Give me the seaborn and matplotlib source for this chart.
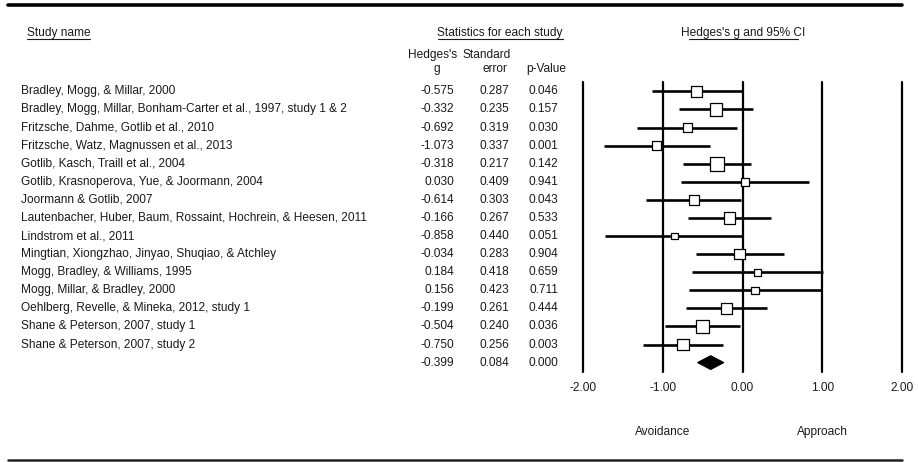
import matplotlib
matplotlib.use("Agg")
import matplotlib.pyplot as plt
import seaborn as sns
import pandas as pd
from matplotlib.transforms import blended_transform_factory
from matplotlib.lines import Line2D
from matplotlib.patches import Polygon

# ---------------- data ----------------
studies = [
    "Bradley, Mogg, & Millar, 2000",
    "Bradley, Mogg, Millar, Bonham-Carter et al., 1997, study 1 & 2",
    "Fritzsche, Dahme, Gotlib et al., 2010",
    "Fritzsche, Watz, Magnussen et al., 2013",
    "Gotlib, Kasch, Traill et al., 2004",
    "Gotlib, Krasnoperova, Yue, & Joormann, 2004",
    "Joormann & Gotlib, 2007",
    "Lautenbacher, Huber, Baum, Rossaint, Hochrein, & Heesen, 2011",
    "Lindstrom et al., 2011",
    "Mingtian, Xiongzhao, Jinyao, Shuqiao, & Atchley",
    "Mogg, Bradley, & Williams, 1995",
    "Mogg, Millar, & Bradley, 2000",
    "Oehlberg, Revelle, & Mineka, 2012, study 1",
    "Shane & Peterson, 2007, study 1",
    "Shane & Peterson, 2007, study 2",
]
hedges_g = [-0.575, -0.332, -0.692, -1.073, -0.318, 0.030, -0.614, -0.166,
            -0.858, -0.034, 0.184, 0.156, -0.199, -0.504, -0.750]
std_err = [0.287, 0.235, 0.319, 0.337, 0.217, 0.409, 0.303, 0.267,
           0.440, 0.283, 0.418, 0.423, 0.261, 0.240, 0.256]
p_values = ["0.046", "0.157", "0.030", "0.001", "0.142", "0.941", "0.043", "0.533",
            "0.051", "0.904", "0.659", "0.711", "0.444", "0.036", "0.003"]
summary_g = -0.399
summary_se = 0.084
summary_p = "0.000"
x_ticks = [-2.0, -1.0, 0.0, 1.0, 2.0]
side_labels = ["Avoidance", "Approach"]
side_positions = [-1.0, 1.0]

# ---------------- style ----------------
sns.set_style("white")
plt.rcParams['font.family'] = ['Liberation Sans', 'DejaVu Sans']
FS = 8.6
TXT = '#1a1a1a'

W, H = 918, 462
fig = plt.figure(figsize=(W / 100, H / 100), dpi=100)
fig.patch.set_facecolor('white')

def fx(px):
    return px / W

def fy(py):
    return 1 - py / H

ax = fig.add_axes([fx(583), fy(372), 319 / W, 290 / H])

df = pd.DataFrame({"study": studies, "g": hedges_g, "se": std_err, "p": p_values})
df["row"] = range(len(df))
df["lo"] = df["g"] - 1.96 * df["se"]
df["hi"] = df["g"] + 1.96 * df["se"]
df["weight"] = 1 / df["se"] ** 2
n = len(df)
sum_row = n

ax.set_xlim(-2, 2)
ax.set_ylim(sum_row + 0.52, -0.52)

for xv in x_ticks:
    ax.axvline(xv, color='black', lw=1.6, clip_on=False, zorder=1)

ax.hlines(df["row"], df["lo"], df["hi"], color='black', lw=1.9, zorder=2)

wmax = df["weight"].max()
sns.scatterplot(data=df, x="g", y="row", size="weight", sizes=(0, 4.78 * wmax),
                size_norm=(0, wmax), marker='s', color='white', edgecolor='black',
                linewidth=0.9, legend=False, ax=ax, zorder=3)

lo_s = summary_g - 1.96 * summary_se
hi_s = summary_g + 1.96 * summary_se
ax.add_patch(Polygon([(lo_s, sum_row), (summary_g, sum_row - 0.38),
                      (hi_s, sum_row), (summary_g, sum_row + 0.38)],
                     closed=True, facecolor='black', edgecolor='black', lw=0.8, zorder=3))

ax.set_xticks(x_ticks)
ax.set_xticklabels([f"{t:.2f}" for t in x_ticks])
ax.tick_params(axis='x', length=0, pad=7.5, labelsize=FS, labelcolor=TXT)
ax.set_yticks([])
ax.set_xlabel("")
ax.set_ylabel("")
for s in ax.spines.values():
    s.set_visible(False)
ax.patch.set_alpha(0)

# ---------------- table text ----------------
tr = blended_transform_factory(fig.transFigure, ax.transData)
for i, r in df.iterrows():
    ax.text(fx(21), r["row"], r["study"], transform=tr, ha='left', va='center',
            fontsize=FS, color=TXT)
    ax.text(fx(454), r["row"], f"{r['g']:.3f}", transform=tr, ha='right', va='center',
            fontsize=FS, color=TXT)
    ax.text(fx(509), r["row"], f"{r['se']:.3f}", transform=tr, ha='right', va='center',
            fontsize=FS, color=TXT)
    ax.text(fx(558), r["row"], r["p"], transform=tr, ha='right', va='center',
            fontsize=FS, color=TXT)
ax.text(fx(454), sum_row, f"{summary_g:.3f}", transform=tr, ha='right', va='center', fontsize=FS, color=TXT)
ax.text(fx(509), sum_row, f"{summary_se:.3f}", transform=tr, ha='right', va='center', fontsize=FS, color=TXT)
ax.text(fx(558), sum_row, summary_p, transform=tr, ha='right', va='center', fontsize=FS, color=TXT)

# headers
fig.text(fx(27), fy(33), "Study name", ha='left', va='center', fontsize=FS, color=TXT)
fig.text(fx(500), fy(33), "Statistics for each study", ha='center', va='center', fontsize=FS, color=TXT)
fig.text(fx(743), fy(33), "Hedges's g and 95% CI", ha='center', va='center', fontsize=FS, color=TXT)
fig.text(fx(433), fy(55), "Hedges's", ha='center', va='center', fontsize=FS, color=TXT)
fig.text(fx(437), fy(69), "g", ha='center', va='center', fontsize=FS, color=TXT)
fig.text(fx(487), fy(55), "Standard", ha='center', va='center', fontsize=FS, color=TXT)
fig.text(fx(507), fy(69), "error", ha='right', va='center', fontsize=FS, color=TXT)
fig.text(fx(566), fy(69), "p-Value", ha='right', va='center', fontsize=FS, color=TXT)

# underlines
for x0, x1 in [(27, 90), (438, 563), (689, 798)]:
    fig.add_artist(Line2D([fx(x0), fx(x1)], [fy(39), fy(39)], lw=0.8, color=TXT))

# side labels
tr2 = blended_transform_factory(ax.transData, fig.transFigure)
for lab, pos in zip(side_labels, side_positions):
    ax.text(pos, fy(432), lab, transform=tr2, ha='center', va='center', fontsize=FS, color=TXT)

# top / bottom rules
fig.add_artist(Line2D([fx(8), fx(902)], [fy(5), fy(5)], lw=2.6, color='black'))
fig.add_artist(Line2D([fx(8), fx(902)], [fy(460), fy(460)], lw=1.8, color='#222222'))

fig.savefig("out.png", dpi=100, facecolor='white')
